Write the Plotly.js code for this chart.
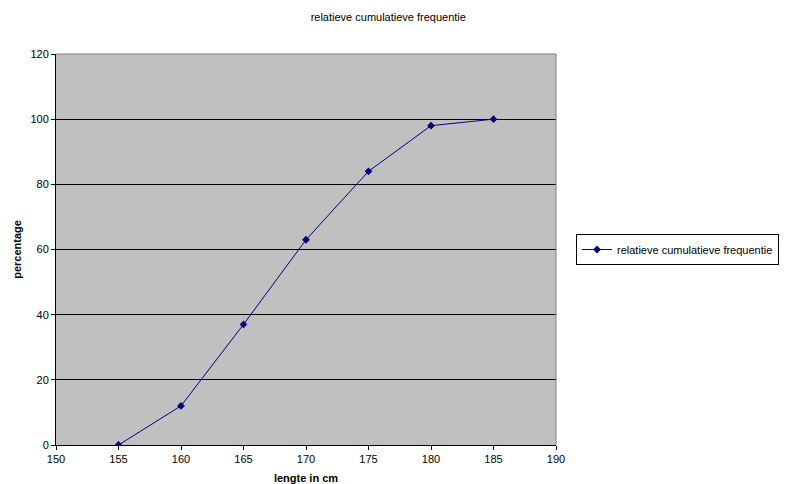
<!DOCTYPE html>
<html>
<head>
<meta charset="utf-8">
<script src="https://cdn.plot.ly/plotly-3.0.1.min.js"></script>
<style>html,body{margin:0;padding:0;background:#fff}#chart{width:786px;height:484px}</style>
</head>
<body>
<div id="chart"></div>
<script>
const lengths = [155, 160, 165, 170, 175, 180, 185];
const percentages = [0, 12, 37, 63, 84, 98, 100];
const seriesName = 'relatieve cumulatieve frequentie';
const chartTitle = 'relatieve cumulatieve frequentie';
const xTitle = 'lengte in cm';
const yTitle = 'percentage';

const trace = {
  x: lengths, y: percentages, name: seriesName,
  type: 'scatter', mode: 'lines+markers',
  line: {color: '#000080', width: 1},
  marker: {symbol: 'diamond', size: 6, color: '#000080'},
  showlegend: true
};

const layout = {
  width: 786, height: 484,
  margin: {l: 56, r: 230, t: 54, b: 39, autoexpand: false},
  paper_bgcolor: '#ffffff', plot_bgcolor: '#c0c0c0',
  font: {family: '"Liberation Sans", Arial, sans-serif', size: 11, color: '#000'},
  title: {text: chartTitle, x: 0.494, xanchor: 'center', y: 0.965, yanchor: 'middle', font: {size: 11}},
  xaxis: {
    range: [150, 190], dtick: 5, tick0: 150, showgrid: false, zeroline: false,
    showline: true, linecolor: '#000', linewidth: 1,
    ticks: 'outside', ticklen: 4, tickcolor: '#000',
    title: {text: '<b>' + xTitle + '</b>', standoff: 10, font: {size: 11}}
  },
  yaxis: {
    range: [0, 120], dtick: 20, showgrid: true, gridcolor: '#000', gridwidth: 1, zeroline: false,
    showline: true, linecolor: '#000', linewidth: 1,
    ticks: 'outside', ticklen: 4, tickcolor: '#000',
    title: {text: '<b>' + yTitle + '</b>', standoff: 6, font: {size: 11}}
  },
  legend: {x: 1.04, xanchor: 'left', y: 0.5, yanchor: 'middle', bgcolor: '#fff',
    bordercolor: '#000', borderwidth: 1, font: {size: 11}, itemwidth: 30, tracegroupgap: 0},
  shapes: [
    {type: 'line', xref: 'paper', yref: 'paper', x0: 0, x1: 1, y0: 1, y1: 1, line: {color: '#808080', width: 1}},
    {type: 'line', xref: 'paper', yref: 'paper', x0: 1, x1: 1, y0: 0, y1: 1, line: {color: '#808080', width: 1}}
  ]
};

Plotly.newPlot('chart', [trace], layout, {displayModeBar: false, staticPlot: true});
</script>
</body>
</html>
